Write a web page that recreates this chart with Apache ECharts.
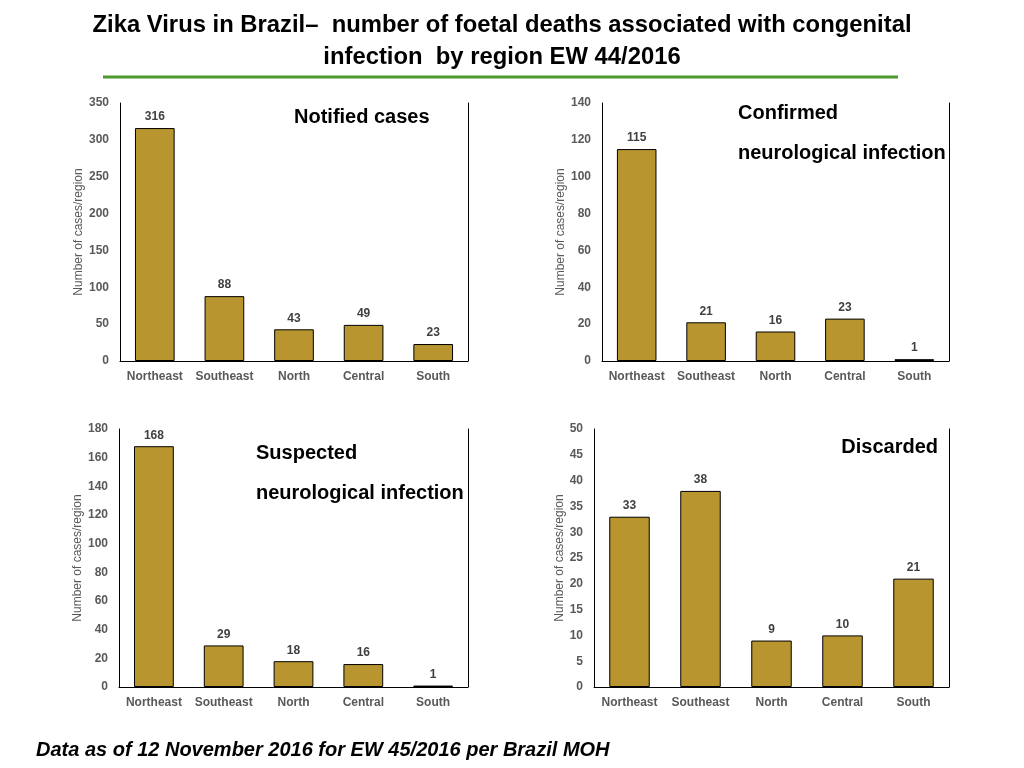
<!DOCTYPE html>
<html>
<head>
<meta charset="utf-8">
<title>Zika foetal deaths by region</title>
<script src="https://cdn.jsdelivr.net/npm/echarts@6/dist/echarts.min.js"></script>
<style>
  html, body { margin: 0; padding: 0; background: #fff; }
  #main { width: 1024px; height: 768px; }
</style>
</head>
<body>
<div id="main"></div>
<script type="text/javascript">
// categories and values per panel
var regions = ['Northeast', 'Southeast', 'North', 'Central', 'South'];
var notified = [316, 88, 43, 49, 23];
var confirmed = [115, 21, 16, 23, 1];
var suspected = [168, 29, 18, 16, 1];
var discarded = [33, 38, 9, 10, 21];
// y axis max / step per panel
var yMax = [350, 140, 180, 50];
var yStep = [50, 20, 20, 5];

var FONT = 'Liberation Sans, Arial, sans-serif';
var title1 = 'Zika Virus in Brazil\u2013  number of foetal deaths associated with congenital';
var title2 = 'infection  by region EW 44/2016';

var panels = [
  { data: notified,  grid: { left: 120, top: 103, width: 348, height: 258 }, nameGap: 34 },
  { data: confirmed, grid: { left: 602, top: 103, width: 347, height: 258 }, nameGap: 34 },
  { data: suspected, grid: { left: 119, top: 429, width: 349, height: 258 }, nameGap: 34 },
  { data: discarded, grid: { left: 594, top: 429, width: 355, height: 258 }, nameGap: 27 }
];

var grids = [], xAxes = [], yAxes = [], series = [];
panels.forEach(function (p, i) {
  grids.push(p.grid);
  // bottom category axis (grey line)
  xAxes.push({
    type: 'category', gridIndex: i, data: regions,
    axisLine: { show: true, lineStyle: { color: '#c8c8c8', width: 1 } },
    axisTick: { show: false },
    axisLabel: { interval: 0, hideOverlap: false, color: '#595959', fontSize: 12,
                 fontWeight: 'bold', fontFamily: FONT, margin: 10 }
  });
  // top frame line
  xAxes.push({
    type: 'category', gridIndex: i, position: 'top', data: regions,
    axisLine: { show: true, lineStyle: { color: '#000', width: 1 } },
    axisTick: { show: false }, axisLabel: { show: false }
  });
  yAxes.push({
    type: 'value', gridIndex: i, min: 0, max: yMax[i], interval: yStep[i],
    name: 'Number of cases/region', nameLocation: 'middle', nameGap: p.nameGap,
    nameTextStyle: { color: '#595959', fontSize: 12, fontFamily: FONT },
    axisLine: { show: true, lineStyle: { color: '#000', width: 1 } },
    axisTick: { show: false }, splitLine: { show: false },
    axisLabel: { color: '#595959', fontSize: 12, fontWeight: 'bold', fontFamily: FONT, margin: 11 }
  });
  // right frame line
  yAxes.push({
    type: 'value', gridIndex: i, position: 'right', min: 0, max: yMax[i], interval: yStep[i],
    axisLine: { show: true, lineStyle: { color: '#000', width: 1 } },
    axisTick: { show: false }, splitLine: { show: false }, axisLabel: { show: false }
  });
  series.push({
    type: 'bar', xAxisIndex: i * 2, yAxisIndex: i * 2, data: p.data,
    barWidth: '57%',
    itemStyle: { color: '#B8952F', borderColor: '#000', borderWidth: 1 },
    label: {
      show: true, position: 'top', distance: 5,
      color: '#404040', fontSize: 12, fontWeight: 'bold', fontFamily: FONT
    }
  });
});

// fit the heading's first line to the width it has in the picture
var cv = document.createElement('canvas').getContext('2d');
cv.font = 'bold 24px "Liberation Sans"';
var squeeze = Math.min(1, 819 / cv.measureText(title1).width);

function txt(x, y, s, size, extra, sx) {
  var st = { text: s, x: 0, y: 0, fill: '#000', fontSize: size, fontWeight: 'bold', fontFamily: FONT };
  for (var k in extra) st[k] = extra[k];
  return { type: 'text', x: x, y: y, scaleX: sx || 1, style: st };
}

var myChart = echarts.init(document.getElementById('main'));
myChart.setOption({
  animation: false,
  grid: grids,
  xAxis: xAxes,
  yAxis: yAxes,
  series: series,
  graphic: [
    txt(502, 25, title1, 24, { align: 'center', verticalAlign: 'middle' }, squeeze),
    txt(502, 57, title2, 24, { align: 'center', verticalAlign: 'middle' }, squeeze),
    { type: 'line', shape: { x1: 103, y1: 77, x2: 898, y2: 77 },
      style: { stroke: '#4E9A2E', lineWidth: 3 } },
    txt(294, 117, 'Notified cases', 20, { verticalAlign: 'middle' }),
    txt(738, 113, 'Confirmed', 20, { verticalAlign: 'middle' }),
    txt(738, 153, 'neurological infection', 20, { verticalAlign: 'middle' }),
    txt(256, 453, 'Suspected', 20, { verticalAlign: 'middle' }),
    txt(256, 493, 'neurological infection', 20, { verticalAlign: 'middle' }),
    txt(938, 447, 'Discarded', 20, { align: 'right', verticalAlign: 'middle' }),
    txt(36, 750, 'Data as of 12 November 2016 for EW 45/2016 per Brazil MOH', 20,
        { verticalAlign: 'middle', fontStyle: 'italic' })
  ]
});
</script>
</body>
</html>
